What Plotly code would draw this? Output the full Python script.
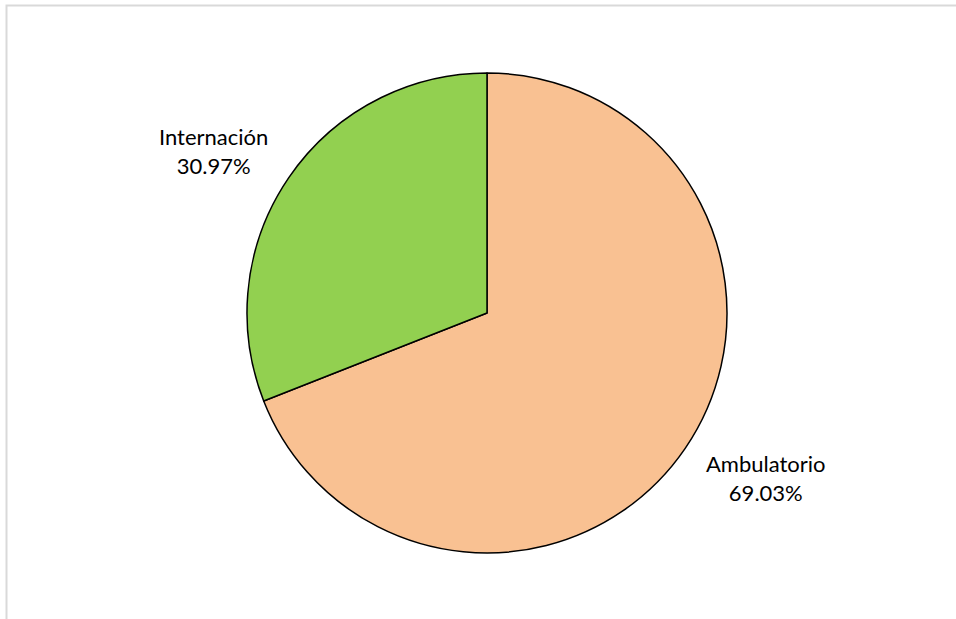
import plotly.graph_objects as go

# Distribution of care by setting
labels = ["Ambulatorio", "Internación"]
values = [69.03, 30.97]
colors = ["#F9C192", "#92D050"]

W, H = 956, 619
cx, cy, R = 487, 313, 240  # pie centre and radius in pixels

# label anchor points (pixels) for each slice
label_pos = {"Ambulatorio": (766, 478), "Internación": (213, 151)}

fig = go.Figure(
    go.Pie(
        labels=labels,
        values=values,
        sort=False,
        direction="clockwise",
        rotation=0,
        marker=dict(colors=colors, line=dict(color="#000000", width=1.5)),
        textinfo="none",
        hoverinfo="label+percent",
        showlegend=False,
        domain=dict(x=[(cx - R) / W, (cx + R) / W], y=[(H - cy - R) / H, (H - cy + R) / H]),
    )
)

total = sum(values)
for lab, val in zip(labels, values):
    px, py = label_pos[lab]
    fig.add_annotation(
        x=px / W, y=1 - py / H, xref="paper", yref="paper",
        text=f"{lab}<br>{val / total * 100:.2f}%",
        showarrow=False, xanchor="center", yanchor="middle",
        font=dict(family="Lato", size=22, color="#000000"),
    )

# thin grey chart-area frame along top and left
fig.add_shape(
    type="path", xref="paper", yref="paper",
    path=f"M {6.5 / W} 0 L {6.5 / W} {1 - 5.5 / H} L 1 {1 - 5.5 / H}",
    line=dict(color="#D9D9D9", width=2),
)

fig.update_layout(
    width=W, height=H,
    margin=dict(l=0, r=0, t=0, b=0),
    paper_bgcolor="#FFFFFF",
    plot_bgcolor="#FFFFFF",
)

fig.write_html("out.html")
